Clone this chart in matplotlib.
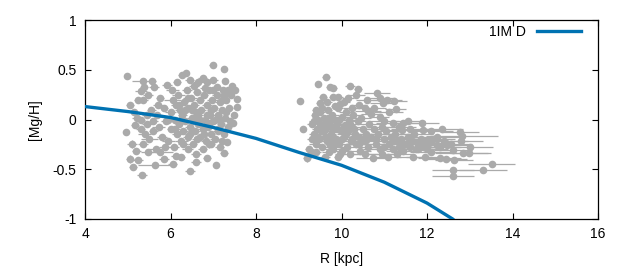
import matplotlib
matplotlib.use("Agg")
import matplotlib.pyplot as plt

plt.rcParams['font.family'] = ['Liberation Sans', 'DejaVu Sans']

star_c = "#aaaaaa"   # gray stars
model_c = "#0072b2"  # model line

# model curve: R [kpc], [Mg/H]
model_r = [4.0, 5.0, 6.0, 7.0, 8.0, 9.0, 10.0, 11.0, 12.0, 12.6, 13.0]
model_mg = [0.13, 0.08, 0.02, -0.08, -0.19, -0.33, -0.46, -0.63, -0.84, -1.0, -1.15]

# stars: (R, [Mg/H], R error, [Mg/H] error)
inner_stars = [
    (4.98, 0.44, 0.05, 0.02), (5.36, 0.39, 0.25, 0.02), (5.57, 0.39, 0.1, 0.02),
    (5.31, 0.29, 0.15, 0.03), (5.38, 0.33, 0.1, 0.02), (5.61, 0.33, 0.12, 0.02),
    (5.36, 0.20, 0.12, 0.03), (5.05, 0.15, 0.1, 0.03), (4.96, -0.13, 0.05, 0.02),
    (5.17, -0.06, 0.1, 0.03), (5.10, -0.25, 0.12, 0.04), (5.05, -0.40, 0.1, 0.04),
    (5.12, -0.48, 0.1, 0.03), (5.24, -0.41, 0.12, 0.03), (5.33, -0.56, 0.12, 0.03),
    (5.64, -0.46, 0.4, 0.03), (5.47, -0.33, 0.15, 0.03), (5.75, -0.33, 0.3, 0.03),
    (5.87, -0.28, 0.15, 0.03), (6.13, -0.37, 0.12, 0.03), (6.46, -0.52, 0.12, 0.03),
    (6.60, -0.35, 0.12, 0.03), (6.60, -0.43, 0.12, 0.03), (6.85, -0.39, 0.1, 0.03),
    (7.07, -0.46, 0.05, 0.02), (7.25, -0.34, 0.1, 0.03), (6.90, -0.25, 0.1, 0.04),
    (7.32, -0.23, 0.05, 0.03), (6.99, 0.55, 0.08, 0.02), (7.25, 0.51, 0.05, 0.02),
    (6.36, 0.47, 0.05, 0.02), (6.27, 0.45, 0.1, 0.02), (7.27, 0.39, 0.05, 0.02),
    (7.44, 0.34, 0.05, 0.02), (7.55, 0.21, 0.05, 0.02), (7.55, 0.13, 0.05, 0.02),
    (7.46, -0.04, 0.05, 0.02), (6.64, 0.38, 0.12, 0.02), (6.85, 0.38, 0.12, 0.02),
    (6.04, 0.30, 0.15, 0.03), (7.09, 0.33, 0.1, 0.02),
    (5.15, 0.08, 0.1, 0.03), (5.22, 0.02, 0.12, 0.03), (5.30, -0.10, 0.1, 0.03),
    (5.40, -0.15, 0.15, 0.03), (5.45, -0.05, 0.12, 0.03), (5.55, 0.10, 0.1, 0.03),
    (5.50, -0.20, 0.2, 0.03), (5.60, -0.12, 0.1, 0.03), (5.68, 0.05, 0.12, 0.03),
    (5.72, -0.08, 0.15, 0.03), (5.80, -0.18, 0.12, 0.03), (5.85, 0.12, 0.1, 0.03),
    (5.90, -0.02, 0.12, 0.03), (5.95, -0.22, 0.15, 0.03), (6.00, 0.08, 0.12, 0.03),
    (6.02, -0.10, 0.1, 0.03), (6.05, 0.20, 0.2, 0.03), (6.08, -0.28, 0.12, 0.03),
    (6.10, 0.00, 0.15, 0.03), (6.12, 0.15, 0.1, 0.03), (6.15, -0.15, 0.12, 0.03),
    (6.18, 0.25, 0.15, 0.03), (6.20, -0.05, 0.1, 0.03), (6.22, 0.10, 0.12, 0.03),
    (6.25, -0.22, 0.15, 0.03), (6.28, 0.05, 0.1, 0.03), (6.30, -0.12, 0.12, 0.03),
    (6.32, 0.18, 0.1, 0.03), (6.35, -0.02, 0.15, 0.03), (6.38, 0.30, 0.12, 0.03),
    (6.40, -0.18, 0.1, 0.03), (6.42, 0.12, 0.12, 0.03), (6.45, -0.08, 0.1, 0.03),
    (6.48, 0.22, 0.15, 0.03), (6.50, 0.02, 0.12, 0.03), (6.52, -0.25, 0.1, 0.03),
    (6.55, 0.15, 0.12, 0.03), (6.58, -0.12, 0.1, 0.03), (6.60, 0.08, 0.15, 0.03),
    (6.62, 0.28, 0.1, 0.03), (6.65, -0.05, 0.12, 0.03), (6.68, 0.20, 0.1, 0.03),
    (6.70, -0.18, 0.15, 0.03), (6.72, 0.10, 0.1, 0.03), (6.75, -0.10, 0.12, 0.03),
    (6.78, 0.25, 0.1, 0.03), (6.80, 0.00, 0.12, 0.03), (6.82, -0.22, 0.1, 0.03),
    (6.85, 0.15, 0.12, 0.03), (6.88, -0.08, 0.1, 0.03), (6.90, 0.30, 0.1, 0.03),
    (6.92, 0.05, 0.12, 0.03), (6.95, -0.15, 0.1, 0.03), (6.98, 0.20, 0.12, 0.03),
    (7.00, -0.02, 0.1, 0.03), (7.02, 0.12, 0.1, 0.03), (7.05, -0.20, 0.12, 0.03),
    (7.08, 0.25, 0.1, 0.03), (7.10, 0.05, 0.1, 0.03), (7.12, -0.10, 0.1, 0.03),
    (7.15, 0.18, 0.1, 0.03), (7.18, -0.05, 0.1, 0.03), (7.20, 0.10, 0.08, 0.03),
    (7.22, 0.30, 0.08, 0.03), (7.25, -0.15, 0.08, 0.03), (7.28, 0.02, 0.08, 0.03),
    (7.30, 0.20, 0.08, 0.03), (7.35, -0.08, 0.08, 0.03), (7.38, 0.12, 0.08, 0.03),
    (7.42, 0.25, 0.05, 0.03), (7.48, 0.05, 0.05, 0.03), (5.25, 0.20, 0.1, 0.03),
    (5.48, 0.25, 0.12, 0.03), (5.75, 0.22, 0.1, 0.03), (5.92, 0.35, 0.12, 0.03),
    (6.15, 0.38, 0.1, 0.03), (6.45, 0.40, 0.1, 0.03), (6.75, 0.42, 0.1, 0.03),
    (6.55, 0.34, 0.12, 0.03), (7.00, 0.40, 0.1, 0.03), (5.65, -0.30, 0.15, 0.03),
    (5.85, -0.40, 0.12, 0.03), (6.25, -0.38, 0.1, 0.03), (6.40, -0.30, 0.12, 0.03),
    (6.75, -0.30, 0.1, 0.03), (7.15, -0.28, 0.1, 0.03), (5.35, -0.25, 0.12, 0.03),
    (5.20, -0.32, 0.1, 0.03), (6.05, -0.45, 0.1, 0.03), (5.95, 0.00, 0.12, 0.03),
    (6.30, 0.08, 0.1, 0.03), (6.65, 0.05, 0.12, 0.03), (6.90, -0.05, 0.1, 0.03),
    (7.15, 0.00, 0.1, 0.03),
    (6.25, 0.00, 0.12, 0.03), (6.35, 0.10, 0.1, 0.03), (6.45, -0.15, 0.12, 0.03),
    (6.55, -0.02, 0.1, 0.03), (6.62, -0.20, 0.12, 0.03), (6.70, 0.00, 0.1, 0.03),
    (6.78, -0.15, 0.12, 0.03), (6.85, 0.05, 0.1, 0.03), (6.95, 0.10, 0.1, 0.03),
    (7.05, 0.00, 0.1, 0.03), (7.10, -0.12, 0.1, 0.03), (7.20, 0.20, 0.08, 0.03),
    (7.30, 0.08, 0.08, 0.03), (7.35, 0.30, 0.08, 0.03), (7.40, -0.02, 0.05, 0.03),
    (6.50, 0.10, 0.12, 0.03), (6.40, 0.22, 0.1, 0.03), (6.30, -0.25, 0.12, 0.03),
    (6.20, 0.15, 0.1, 0.03), (6.10, -0.10, 0.12, 0.03), (5.60, -0.02, 0.1, 0.03),
    (5.45, 0.05, 0.12, 0.03), (5.30, 0.00, 0.1, 0.03), (5.70, 0.15, 0.12, 0.03),
    (7.25, 0.25, 0.08, 0.03), (7.50, 0.30, 0.05, 0.03), (7.00, 0.30, 0.1, 0.03),
    (6.80, 0.32, 0.1, 0.03), (7.20, -0.22, 0.08, 0.03), (6.95, -0.25, 0.1, 0.03),
]

outer_stars = [
    (9.64, 0.43, 0.1, 0.02), (9.45, 0.36, 0.05, 0.02), (9.73, 0.33, 0.1, 0.02),
    (9.80, 0.32, 0.1, 0.02), (10.20, 0.34, 0.12, 0.02), (10.39, 0.31, 0.1, 0.02),
    (9.03, 0.19, 0.05, 0.02), (10.83, 0.27, 0.3, 0.02), (10.90, 0.22, 0.35, 0.02),
    (11.06, 0.20, 0.35, 0.02), (10.97, 0.17, 0.3, 0.02), (11.23, 0.19, 0.3, 0.02),
    (11.27, 0.11, 0.25, 0.02), (9.57, 0.23, 0.1, 0.02), (9.80, 0.23, 0.1, 0.02),
    (9.92, 0.23, 0.12, 0.02), (9.50, 0.17, 0.1, 0.02), (9.96, 0.16, 0.1, 0.02),
    (10.24, 0.12, 0.2, 0.02), (10.62, 0.09, 0.3, 0.02), (10.90, 0.03, 0.2, 0.02),
    (9.10, -0.10, 0.05, 0.02), (9.19, -0.39, 0.1, 0.04), (9.31, -0.34, 0.12, 0.03),
    (9.61, -0.38, 0.12, 0.03), (9.92, -0.38, 0.1, 0.03), (9.96, -0.35, 0.12, 0.03),
    (9.73, -0.26, 0.1, 0.03), (10.43, -0.32, 0.25, 0.03), (10.74, -0.39, 0.4, 0.03),
    (11.09, -0.38, 0.3, 0.03), (11.20, -0.04, 0.4, 0.03), (11.44, -0.04, 0.35, 0.03),
    (11.88, -0.04, 0.4, 0.03), (11.41, -0.11, 0.35, 0.03), (11.91, -0.11, 0.4, 0.03),
    (12.77, -0.13, 0.45, 0.02), (12.82, -0.17, 0.85, 0.02), (12.84, -0.34, 0.65, 0.02),
    (12.98, -0.34, 0.45, 0.03), (12.30, -0.39, 0.5, 0.02), (12.44, -0.40, 0.5, 0.02),
    (12.63, -0.41, 0.45, 0.02), (13.52, -0.45, 0.55, 0.02), (13.31, -0.51, 0.55, 0.02),
    (12.61, -0.51, 0.5, 0.02), (12.61, -0.57, 0.5, 0.02), (11.95, -0.38, 0.45, 0.02),
    (11.67, -0.38, 0.4, 0.02), (12.23, -0.26, 0.45, 0.02), (12.00, -0.21, 0.5, 0.02),
    (12.23, -0.18, 0.55, 0.02), (12.47, -0.26, 0.5, 0.02), (12.61, -0.31, 0.45, 0.02),
    (9.30, -0.05, 0.1, 0.03), (9.35, -0.15, 0.12, 0.03), (9.38, 0.05, 0.1, 0.03),
    (9.40, -0.25, 0.15, 0.03), (9.42, -0.10, 0.12, 0.03), (9.45, 0.00, 0.1, 0.03),
    (9.48, -0.20, 0.15, 0.03), (9.50, 0.08, 0.12, 0.03), (9.52, -0.12, 0.1, 0.03),
    (9.55, -0.28, 0.15, 0.03), (9.58, -0.05, 0.12, 0.03), (9.60, 0.02, 0.1, 0.03),
    (9.62, -0.18, 0.15, 0.03), (9.65, -0.08, 0.12, 0.03), (9.68, 0.10, 0.1, 0.03),
    (9.70, -0.22, 0.2, 0.03), (9.72, -0.02, 0.15, 0.03), (9.75, -0.15, 0.12, 0.03),
    (9.78, 0.05, 0.15, 0.03), (9.80, -0.30, 0.2, 0.03), (9.82, -0.10, 0.15, 0.03),
    (9.85, 0.00, 0.12, 0.03), (9.88, -0.20, 0.2, 0.03), (9.90, -0.05, 0.15, 0.03),
    (9.92, 0.12, 0.12, 0.03), (9.95, -0.25, 0.2, 0.03), (9.98, -0.12, 0.2, 0.03),
    (10.00, 0.03, 0.15, 0.03), (10.05, -0.18, 0.25, 0.03), (10.08, -0.06, 0.2, 0.03),
    (10.10, 0.08, 0.15, 0.03), (10.12, -0.28, 0.25, 0.03), (10.15, -0.12, 0.2, 0.03),
    (10.18, 0.00, 0.2, 0.03), (10.22, -0.22, 0.25, 0.03), (10.25, -0.08, 0.2, 0.03),
    (10.28, 0.05, 0.2, 0.03), (10.32, -0.15, 0.3, 0.03), (10.35, -0.25, 0.25, 0.03),
    (10.38, -0.02, 0.2, 0.03), (10.42, -0.18, 0.3, 0.03), (10.45, 0.02, 0.25, 0.03),
    (10.50, -0.10, 0.3, 0.03), (10.55, -0.22, 0.3, 0.03), (10.58, -0.15, 0.35, 0.03),
    (10.62, -0.28, 0.3, 0.03), (10.65, -0.05, 0.3, 0.03), (10.70, -0.18, 0.35, 0.03),
    (10.75, -0.10, 0.3, 0.03), (10.80, -0.25, 0.35, 0.03), (10.85, -0.15, 0.3, 0.03),
    (10.90, -0.30, 0.4, 0.03), (10.95, -0.08, 0.35, 0.03), (11.00, -0.20, 0.4, 0.03),
    (11.05, -0.12, 0.35, 0.03), (11.10, -0.25, 0.4, 0.03), (11.15, -0.18, 0.35, 0.03),
    (11.20, -0.30, 0.4, 0.03), (11.25, -0.15, 0.4, 0.03), (11.30, -0.22, 0.35, 0.03),
    (11.35, -0.28, 0.4, 0.03), (11.40, -0.20, 0.45, 0.03), (11.45, -0.32, 0.4, 0.03),
    (11.50, -0.25, 0.45, 0.03), (11.55, -0.18, 0.4, 0.03), (11.60, -0.28, 0.45, 0.03),
    (11.65, -0.22, 0.4, 0.03), (11.70, -0.15, 0.45, 0.03), (11.75, -0.30, 0.5, 0.03),
    (11.80, -0.25, 0.45, 0.03), (11.85, -0.20, 0.5, 0.03), (11.90, -0.28, 0.45, 0.03),
    (12.00, -0.30, 0.5, 0.03), (12.05, -0.24, 0.45, 0.03), (12.10, -0.33, 0.5, 0.03),
    (12.15, -0.20, 0.5, 0.03), (12.30, -0.28, 0.5, 0.03), (12.40, -0.22, 0.55, 0.03),
    (12.55, -0.25, 0.5, 0.03), (9.55, 0.12, 0.1, 0.03), (9.65, 0.18, 0.12, 0.03),
    (9.85, 0.14, 0.1, 0.03), (10.05, 0.18, 0.15, 0.03), (10.15, 0.22, 0.15, 0.03),
    (10.40, 0.15, 0.2, 0.03), (10.55, 0.12, 0.25, 0.03), (10.70, 0.06, 0.25, 0.03),
    (10.35, 0.25, 0.2, 0.03), (10.60, 0.20, 0.25, 0.03), (9.40, -0.33, 0.12, 0.03),
    (9.70, -0.33, 0.15, 0.03), (10.00, -0.32, 0.2, 0.03), (10.20, -0.35, 0.25, 0.03),
    (10.55, -0.35, 0.3, 0.03), (10.95, -0.35, 0.35, 0.03), (11.30, -0.35, 0.4, 0.03),
    (10.75, 0.12, 0.3, 0.03), (11.10, 0.08, 0.35, 0.03), (11.00, -0.02, 0.35, 0.03),
    (11.35, -0.08, 0.4, 0.03), (11.60, -0.10, 0.45, 0.03), (11.55, -0.02, 0.4, 0.03),
    (12.10, -0.12, 0.5, 0.03), (12.35, -0.10, 0.5, 0.03), (12.80, -0.22, 0.5, 0.03),
    (13.00, -0.28, 0.55, 0.03),
    (9.35, -0.02, 0.1, 0.03), (9.45, -0.18, 0.12, 0.03), (9.50, -0.05, 0.1, 0.03),
    (9.60, -0.12, 0.12, 0.03), (9.65, -0.22, 0.15, 0.03), (9.70, 0.02, 0.12, 0.03),
    (9.75, -0.08, 0.15, 0.03), (9.80, -0.18, 0.15, 0.03), (9.85, -0.25, 0.2, 0.03),
    (9.90, -0.10, 0.15, 0.03), (9.95, 0.00, 0.15, 0.03), (10.00, -0.20, 0.2, 0.03),
    (10.05, -0.08, 0.2, 0.03), (10.10, -0.15, 0.2, 0.03), (10.20, -0.05, 0.2, 0.03),
    (10.25, -0.20, 0.25, 0.03), (10.30, -0.10, 0.25, 0.03), (10.40, -0.25, 0.3, 0.03),
    (10.50, -0.20, 0.3, 0.03), (10.60, -0.20, 0.3, 0.03), (10.80, -0.20, 0.35, 0.03),
    (11.00, -0.28, 0.4, 0.03), (11.20, -0.22, 0.4, 0.03), (11.40, -0.25, 0.45, 0.03),
    (11.60, -0.20, 0.45, 0.03), (11.80, -0.30, 0.5, 0.03), (11.95, -0.25, 0.5, 0.03),
    (9.40, 0.10, 0.1, 0.03), (9.30, -0.20, 0.1, 0.03), (9.25, -0.30, 0.1, 0.03),
]

fig = plt.figure(figsize=(6.3, 2.8), dpi=100)
ax = fig.add_axes([85/630, 1-219/280, 513/630, 199/280])

for stars in (inner_stars, outer_stars):
    r, mg, dr, dmg = zip(*stars)
    ax.errorbar(r, mg, xerr=dr, yerr=dmg, fmt='o', color=star_c, ms=5.5,
                mew=0, elinewidth=0.9, capsize=1.8, capthick=0.9, zorder=2)

ax.plot(model_r, model_mg, color=model_c, lw=2.4, label='1IM D', zorder=3)

ax.set_xlim(4, 16)
ax.set_ylim(-1, 1)
ax.set_xticks([4, 6, 8, 10, 12, 14, 16])
ax.set_yticks([-1, -0.5, 0, 0.5, 1])
ax.set_yticklabels(['-1', '-0.5', '0', '0.5', '1'])
ax.tick_params(direction='in', length=4, width=0.8, top=True, right=True,
               labelsize=10, pad=6, colors='black')
for s in ax.spines.values():
    s.set_linewidth(0.9)

ax.set_xlabel('R [kpc]', fontsize=10, labelpad=8)
ax.set_ylabel('[Mg/H]', fontsize=10, labelpad=8)

ax.legend(loc='center right', bbox_to_anchor=(0.978, 0.94), borderaxespad=0,
          frameon=False, markerfirst=False, fontsize=10,
          handlelength=3.2, handletextpad=0.8)

fig.savefig('out.png', dpi=100)
